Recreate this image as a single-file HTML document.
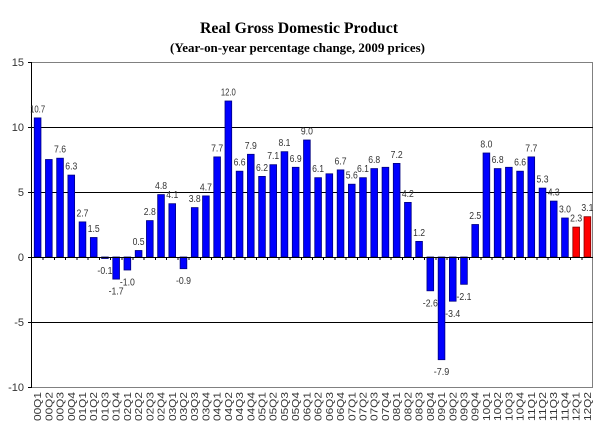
<!DOCTYPE html>
<html>
<head>
<meta charset="utf-8">
<style>
html,body{margin:0;padding:0;background:#fff;}
svg{display:block;}
.t{font-family:"Liberation Serif",serif;font-weight:bold;fill:#000;}
.v{font-family:"Liberation Sans",sans-serif;font-size:10px;fill:#333;}
.ax{font-family:"Liberation Sans",sans-serif;font-size:11px;fill:#333;}
.xl{font-family:"Liberation Sans",sans-serif;font-size:10px;fill:#333;}
</style>
</head>
<body>
<svg width="600" height="440" viewBox="0 0 600 440" xmlns="http://www.w3.org/2000/svg">
<rect x="0" y="0" width="600" height="440" fill="#fff"/>
<text class="t" x="200" y="33" font-size="15.5" textLength="198" lengthAdjust="spacingAndGlyphs">Real Gross Domestic Product</text>
<text class="t" x="170" y="52" font-size="12.5" textLength="255" lengthAdjust="spacingAndGlyphs">(Year-on-year percentage change, 2009 prices)</text>

<g shape-rendering="crispEdges">
<line x1="32" y1="62.5" x2="593" y2="62.5" stroke="#808080"/>
<line x1="592.5" y1="62" x2="592.5" y2="387" stroke="#808080"/>
<line x1="32" y1="387.5" x2="593" y2="387.5" stroke="#808080"/>
<line x1="32" y1="127.5" x2="593" y2="127.5" stroke="#000"/>
<line x1="32" y1="192.5" x2="593" y2="192.5" stroke="#000"/>
<line x1="32" y1="322.5" x2="593" y2="322.5" stroke="#000"/>
</g>

<g stroke="#000080" stroke-width="0.8" fill="#0000ff">
<rect x="34.26" y="117.9" width="6.7" height="139.1"/>
<rect x="45.48" y="159.5" width="6.7" height="97.5"/>
<rect x="56.70" y="158.2" width="6.7" height="98.8"/>
<rect x="67.92" y="175.1" width="6.7" height="81.9"/>
<rect x="79.14" y="221.9" width="6.7" height="35.1"/>
<rect x="90.36" y="237.5" width="6.7" height="19.5"/>
<rect x="101.58" y="257" width="6.7" height="1.5"/>
<rect x="112.80" y="257" width="6.7" height="22.1"/>
<rect x="124.02" y="257" width="6.7" height="13"/>
<rect x="135.24" y="250.5" width="6.7" height="6.5"/>
<rect x="146.46" y="220.6" width="6.7" height="36.4"/>
<rect x="157.68" y="194.6" width="6.7" height="62.4"/>
<rect x="168.90" y="203.7" width="6.7" height="53.3"/>
<rect x="180.12" y="257" width="6.7" height="11.7"/>
<rect x="191.34" y="207.6" width="6.7" height="49.4"/>
<rect x="202.56" y="195.9" width="6.7" height="61.1"/>
<rect x="213.78" y="156.9" width="6.7" height="100.1"/>
<rect x="225.00" y="101" width="6.7" height="156"/>
<rect x="236.22" y="171.2" width="6.7" height="85.8"/>
<rect x="247.44" y="154.3" width="6.7" height="102.7"/>
<rect x="258.66" y="176.4" width="6.7" height="80.6"/>
<rect x="269.88" y="164.7" width="6.7" height="92.3"/>
<rect x="281.10" y="151.7" width="6.7" height="105.3"/>
<rect x="292.32" y="167.3" width="6.7" height="89.7"/>
<rect x="303.54" y="140" width="6.7" height="117"/>
<rect x="314.76" y="177.7" width="6.7" height="79.3"/>
<rect x="325.98" y="173.8" width="6.7" height="83.2"/>
<rect x="337.20" y="169.9" width="6.7" height="87.1"/>
<rect x="348.42" y="184.2" width="6.7" height="72.8"/>
<rect x="359.64" y="177.7" width="6.7" height="79.3"/>
<rect x="370.86" y="168.6" width="6.7" height="88.4"/>
<rect x="382.08" y="167.3" width="6.7" height="89.7"/>
<rect x="393.30" y="163.4" width="6.7" height="93.6"/>
<rect x="404.52" y="202.4" width="6.7" height="54.6"/>
<rect x="415.74" y="241.4" width="6.7" height="15.6"/>
<rect x="426.96" y="257" width="6.7" height="33.8"/>
<rect x="438.18" y="257" width="6.7" height="102.7"/>
<rect x="449.40" y="257" width="6.7" height="44.2"/>
<rect x="460.62" y="257" width="6.7" height="27.3"/>
<rect x="471.84" y="224.5" width="6.7" height="32.5"/>
<rect x="483.06" y="153" width="6.7" height="104"/>
<rect x="494.28" y="168.6" width="6.7" height="88.4"/>
<rect x="505.50" y="167.3" width="6.7" height="89.7"/>
<rect x="516.72" y="171.2" width="6.7" height="85.8"/>
<rect x="527.94" y="156.9" width="6.7" height="100.1"/>
<rect x="539.16" y="188.1" width="6.7" height="68.9"/>
<rect x="550.38" y="201.1" width="6.7" height="55.9"/>
<rect x="561.60" y="218" width="6.7" height="39"/>
</g>
<g stroke="#800000" stroke-width="0.8" fill="#ff0000">
<rect x="572.82" y="227.1" width="6.7" height="29.9"/>
<rect x="584.04" y="216.7" width="6.7" height="40.3"/>
</g>

<g shape-rendering="crispEdges" stroke="#000">
<line x1="32" y1="257.5" x2="593" y2="257.5"/>
<line x1="31.5" y1="62" x2="31.5" y2="388"/>
<line x1="28" y1="62.5" x2="32" y2="62.5"/>
<line x1="28" y1="127.5" x2="32" y2="127.5"/>
<line x1="28" y1="192.5" x2="32" y2="192.5"/>
<line x1="28" y1="257.5" x2="32" y2="257.5"/>
<line x1="28" y1="322.5" x2="32" y2="322.5"/>
<line x1="28" y1="387.5" x2="32" y2="387.5"/>
</g>
<g shape-rendering="crispEdges" stroke="#000">
<path d="M43.22 257v3M54.44 257v3M65.66 257v3M76.88 257v3M88.10 257v3M99.32 257v3M110.54 257v3M121.76 257v3M132.98 257v3M144.20 257v3M155.42 257v3M166.64 257v3M177.86 257v3M189.08 257v3M200.30 257v3M211.52 257v3M222.74 257v3M233.96 257v3M245.18 257v3M256.40 257v3M267.62 257v3M278.84 257v3M290.06 257v3M301.28 257v3M312.50 257v3M323.72 257v3M334.94 257v3M346.16 257v3M357.38 257v3M368.60 257v3M379.82 257v3M391.04 257v3M402.26 257v3M413.48 257v3M424.70 257v3M435.92 257v3M447.14 257v3M458.36 257v3M469.58 257v3M480.80 257v3M492.02 257v3M503.24 257v3M514.46 257v3M525.68 257v3M536.90 257v3M548.12 257v3M559.34 257v3M570.56 257v3M581.78 257v3"/>
</g>

<g class="ax" text-anchor="end">
<text x="24" y="66">15</text>
<text x="24" y="131">10</text>
<text x="24" y="196">5</text>
<text x="24" y="261">0</text>
<text x="24" y="326">-5</text>
<text x="24" y="391">-10</text>
</g>

<g class="v" text-anchor="middle">
<text x="37.61" y="112.4" textLength="15" lengthAdjust="spacingAndGlyphs">10.7</text>
<text x="60.05" y="152.7" textLength="12" lengthAdjust="spacingAndGlyphs">7.6</text>
<text x="71.27" y="169.6" textLength="12" lengthAdjust="spacingAndGlyphs">6.3</text>
<text x="82.49" y="216.4" textLength="12" lengthAdjust="spacingAndGlyphs">2.7</text>
<text x="93.71" y="232" textLength="12" lengthAdjust="spacingAndGlyphs">1.5</text>
<text x="104.93" y="273.8" textLength="15" lengthAdjust="spacingAndGlyphs">-0.1</text>
<text x="116.15" y="294.6" textLength="15" lengthAdjust="spacingAndGlyphs">-1.7</text>
<text x="127.37" y="285.5" textLength="15" lengthAdjust="spacingAndGlyphs">-1.0</text>
<text x="138.59" y="245" textLength="12" lengthAdjust="spacingAndGlyphs">0.5</text>
<text x="149.81" y="215.1" textLength="12" lengthAdjust="spacingAndGlyphs">2.8</text>
<text x="161.03" y="189.1" textLength="12" lengthAdjust="spacingAndGlyphs">4.8</text>
<text x="172.25" y="198.2" textLength="12" lengthAdjust="spacingAndGlyphs">4.1</text>
<text x="183.47" y="284.2" textLength="15" lengthAdjust="spacingAndGlyphs">-0.9</text>
<text x="194.69" y="202.1" textLength="12" lengthAdjust="spacingAndGlyphs">3.8</text>
<text x="205.91" y="190.4" textLength="12" lengthAdjust="spacingAndGlyphs">4.7</text>
<text x="217.13" y="151.4" textLength="12" lengthAdjust="spacingAndGlyphs">7.7</text>
<text x="228.35" y="95.5" textLength="15" lengthAdjust="spacingAndGlyphs">12.0</text>
<text x="239.57" y="165.7" textLength="12" lengthAdjust="spacingAndGlyphs">6.6</text>
<text x="250.79" y="148.8" textLength="12" lengthAdjust="spacingAndGlyphs">7.9</text>
<text x="262.01" y="170.9" textLength="12" lengthAdjust="spacingAndGlyphs">6.2</text>
<text x="273.23" y="159.2" textLength="12" lengthAdjust="spacingAndGlyphs">7.1</text>
<text x="284.45" y="146.2" textLength="12" lengthAdjust="spacingAndGlyphs">8.1</text>
<text x="295.67" y="161.8" textLength="12" lengthAdjust="spacingAndGlyphs">6.9</text>
<text x="306.89" y="134.5" textLength="12" lengthAdjust="spacingAndGlyphs">9.0</text>
<text x="318.11" y="172.2" textLength="12" lengthAdjust="spacingAndGlyphs">6.1</text>
<text x="340.55" y="164.4" textLength="12" lengthAdjust="spacingAndGlyphs">6.7</text>
<text x="351.77" y="178.7" textLength="12" lengthAdjust="spacingAndGlyphs">5.6</text>
<text x="362.99" y="172.2" textLength="12" lengthAdjust="spacingAndGlyphs">6.1</text>
<text x="374.21" y="163.1" textLength="12" lengthAdjust="spacingAndGlyphs">6.8</text>
<text x="396.65" y="157.9" textLength="12" lengthAdjust="spacingAndGlyphs">7.2</text>
<text x="407.87" y="196.9" textLength="12" lengthAdjust="spacingAndGlyphs">4.2</text>
<text x="419.09" y="235.9" textLength="12" lengthAdjust="spacingAndGlyphs">1.2</text>
<text x="430.31" y="306.3" textLength="15" lengthAdjust="spacingAndGlyphs">-2.6</text>
<text x="441.53" y="375.2" textLength="15.5" lengthAdjust="spacingAndGlyphs">-7.9</text>
<text x="452.75" y="317.2" textLength="15" lengthAdjust="spacingAndGlyphs">-3.4</text>
<text x="463.97" y="299.8" textLength="15" lengthAdjust="spacingAndGlyphs">-2.1</text>
<text x="475.19" y="219" textLength="12" lengthAdjust="spacingAndGlyphs">2.5</text>
<text x="486.41" y="147.5" textLength="12" lengthAdjust="spacingAndGlyphs">8.0</text>
<text x="497.63" y="163.1" textLength="12" lengthAdjust="spacingAndGlyphs">6.8</text>
<text x="520.07" y="165.7" textLength="12" lengthAdjust="spacingAndGlyphs">6.6</text>
<text x="531.29" y="151.4" textLength="12" lengthAdjust="spacingAndGlyphs">7.7</text>
<text x="542.51" y="182.6" textLength="12" lengthAdjust="spacingAndGlyphs">5.3</text>
<text x="553.73" y="195.6" textLength="12" lengthAdjust="spacingAndGlyphs">4.3</text>
<text x="564.95" y="212.5" textLength="12" lengthAdjust="spacingAndGlyphs">3.0</text>
<text x="576.17" y="221.6" textLength="12" lengthAdjust="spacingAndGlyphs">2.3</text>
<text x="587.39" y="211.2" textLength="12" lengthAdjust="spacingAndGlyphs">3.1</text>
</g>

<g class="xl" text-anchor="end">
<text transform="translate(41.1,392) rotate(-90)" textLength="29" lengthAdjust="spacingAndGlyphs">00Q1</text>
<text transform="translate(52.3,392) rotate(-90)" textLength="29" lengthAdjust="spacingAndGlyphs">00Q2</text>
<text transform="translate(63.5,392) rotate(-90)" textLength="29" lengthAdjust="spacingAndGlyphs">00Q3</text>
<text transform="translate(74.8,392) rotate(-90)" textLength="29" lengthAdjust="spacingAndGlyphs">00Q4</text>
<text transform="translate(86.0,392) rotate(-90)" textLength="29" lengthAdjust="spacingAndGlyphs">01Q1</text>
<text transform="translate(97.2,392) rotate(-90)" textLength="29" lengthAdjust="spacingAndGlyphs">01Q2</text>
<text transform="translate(108.4,392) rotate(-90)" textLength="29" lengthAdjust="spacingAndGlyphs">01Q3</text>
<text transform="translate(119.7,392) rotate(-90)" textLength="29" lengthAdjust="spacingAndGlyphs">01Q4</text>
<text transform="translate(130.9,392) rotate(-90)" textLength="29" lengthAdjust="spacingAndGlyphs">02Q1</text>
<text transform="translate(142.1,392) rotate(-90)" textLength="29" lengthAdjust="spacingAndGlyphs">02Q2</text>
<text transform="translate(153.3,392) rotate(-90)" textLength="29" lengthAdjust="spacingAndGlyphs">02Q3</text>
<text transform="translate(164.5,392) rotate(-90)" textLength="29" lengthAdjust="spacingAndGlyphs">02Q4</text>
<text transform="translate(175.8,392) rotate(-90)" textLength="29" lengthAdjust="spacingAndGlyphs">03Q1</text>
<text transform="translate(187.0,392) rotate(-90)" textLength="29" lengthAdjust="spacingAndGlyphs">03Q2</text>
<text transform="translate(198.2,392) rotate(-90)" textLength="29" lengthAdjust="spacingAndGlyphs">03Q3</text>
<text transform="translate(209.4,392) rotate(-90)" textLength="29" lengthAdjust="spacingAndGlyphs">03Q4</text>
<text transform="translate(220.6,392) rotate(-90)" textLength="29" lengthAdjust="spacingAndGlyphs">04Q1</text>
<text transform="translate(231.9,392) rotate(-90)" textLength="29" lengthAdjust="spacingAndGlyphs">04Q2</text>
<text transform="translate(243.1,392) rotate(-90)" textLength="29" lengthAdjust="spacingAndGlyphs">04Q3</text>
<text transform="translate(254.3,392) rotate(-90)" textLength="29" lengthAdjust="spacingAndGlyphs">04Q4</text>
<text transform="translate(265.5,392) rotate(-90)" textLength="29" lengthAdjust="spacingAndGlyphs">05Q1</text>
<text transform="translate(276.7,392) rotate(-90)" textLength="29" lengthAdjust="spacingAndGlyphs">05Q2</text>
<text transform="translate(288.0,392) rotate(-90)" textLength="29" lengthAdjust="spacingAndGlyphs">05Q3</text>
<text transform="translate(299.2,392) rotate(-90)" textLength="29" lengthAdjust="spacingAndGlyphs">05Q4</text>
<text transform="translate(310.4,392) rotate(-90)" textLength="29" lengthAdjust="spacingAndGlyphs">06Q1</text>
<text transform="translate(321.6,392) rotate(-90)" textLength="29" lengthAdjust="spacingAndGlyphs">06Q2</text>
<text transform="translate(332.8,392) rotate(-90)" textLength="29" lengthAdjust="spacingAndGlyphs">06Q3</text>
<text transform="translate(344.1,392) rotate(-90)" textLength="29" lengthAdjust="spacingAndGlyphs">06Q4</text>
<text transform="translate(355.3,392) rotate(-90)" textLength="29" lengthAdjust="spacingAndGlyphs">07Q1</text>
<text transform="translate(366.5,392) rotate(-90)" textLength="29" lengthAdjust="spacingAndGlyphs">07Q2</text>
<text transform="translate(377.7,392) rotate(-90)" textLength="29" lengthAdjust="spacingAndGlyphs">07Q3</text>
<text transform="translate(388.9,392) rotate(-90)" textLength="29" lengthAdjust="spacingAndGlyphs">07Q4</text>
<text transform="translate(400.2,392) rotate(-90)" textLength="29" lengthAdjust="spacingAndGlyphs">08Q1</text>
<text transform="translate(411.4,392) rotate(-90)" textLength="29" lengthAdjust="spacingAndGlyphs">08Q2</text>
<text transform="translate(422.6,392) rotate(-90)" textLength="29" lengthAdjust="spacingAndGlyphs">08Q3</text>
<text transform="translate(433.8,392) rotate(-90)" textLength="29" lengthAdjust="spacingAndGlyphs">08Q4</text>
<text transform="translate(445.0,392) rotate(-90)" textLength="29" lengthAdjust="spacingAndGlyphs">09Q1</text>
<text transform="translate(456.3,392) rotate(-90)" textLength="29" lengthAdjust="spacingAndGlyphs">09Q2</text>
<text transform="translate(467.5,392) rotate(-90)" textLength="29" lengthAdjust="spacingAndGlyphs">09Q3</text>
<text transform="translate(478.7,392) rotate(-90)" textLength="29" lengthAdjust="spacingAndGlyphs">09Q4</text>
<text transform="translate(489.9,392) rotate(-90)" textLength="29" lengthAdjust="spacingAndGlyphs">10Q1</text>
<text transform="translate(501.1,392) rotate(-90)" textLength="29" lengthAdjust="spacingAndGlyphs">10Q2</text>
<text transform="translate(512.4,392) rotate(-90)" textLength="29" lengthAdjust="spacingAndGlyphs">10Q3</text>
<text transform="translate(523.6,392) rotate(-90)" textLength="29" lengthAdjust="spacingAndGlyphs">10Q4</text>
<text transform="translate(534.8,392) rotate(-90)" textLength="29" lengthAdjust="spacingAndGlyphs">11Q1</text>
<text transform="translate(546.0,392) rotate(-90)" textLength="29" lengthAdjust="spacingAndGlyphs">11Q2</text>
<text transform="translate(557.2,392) rotate(-90)" textLength="29" lengthAdjust="spacingAndGlyphs">11Q3</text>
<text transform="translate(568.5,392) rotate(-90)" textLength="29" lengthAdjust="spacingAndGlyphs">11Q4</text>
<text transform="translate(579.7,392) rotate(-90)" textLength="29" lengthAdjust="spacingAndGlyphs">12Q1</text>
<text transform="translate(590.9,392) rotate(-90)" textLength="29" lengthAdjust="spacingAndGlyphs">12Q2</text>
</g>
</svg>
</body>
</html>
